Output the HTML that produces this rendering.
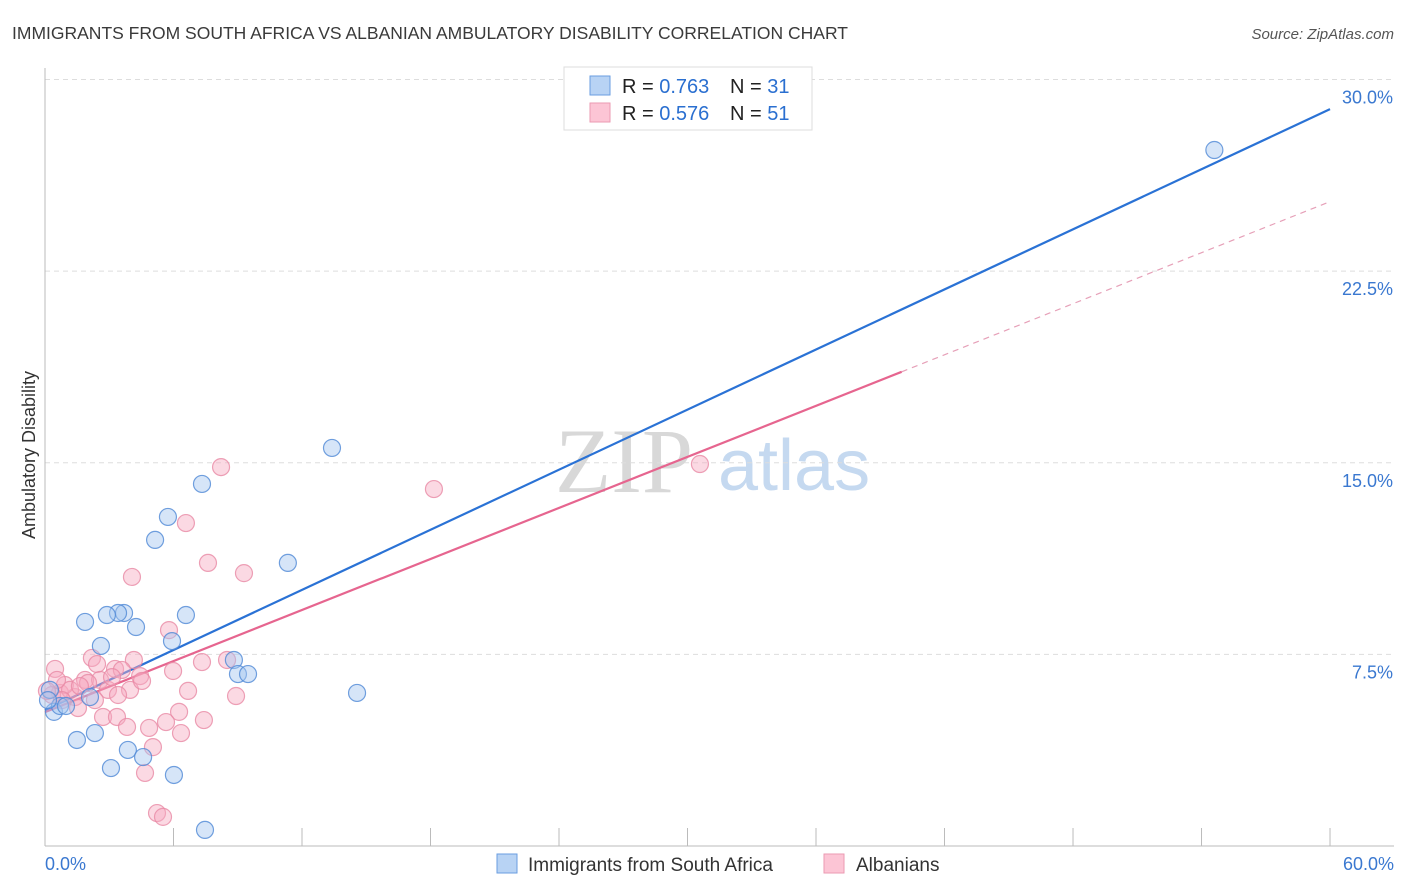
<!DOCTYPE html>
<html><head><meta charset="utf-8"><style>
body{margin:0;background:#fff;font-family:"Liberation Sans",sans-serif;}
svg{display:block}
</style></head><body>
<svg id="chart" width="1406" height="892" xmlns="http://www.w3.org/2000/svg">
<text x="12" y="39" font-size="17.5" fill="#3a3a3a">IMMIGRANTS FROM SOUTH AFRICA VS ALBANIAN AMBULATORY DISABILITY CORRELATION CHART</text>
<text x="1394" y="39" font-size="15" fill="#555" font-style="italic" text-anchor="end">Source: ZipAtlas.com</text>
<g>
<text x="555" y="492" font-family="Liberation Serif,serif" font-size="92" fill="#d8d8d8">ZIP</text>
<text x="718" y="490" font-size="72" fill="#c5d9f0">atlas</text>
</g>
<g id="grid"></g>
<g id="axes"></g>
<g id="lines"></g>
<g id="points"></g>
<text x="35" y="455" font-size="18" fill="#333" text-anchor="middle" transform="rotate(-90 35 455)">Ambulatory Disability</text>
<text x="45" y="870" font-size="18" fill="#3a78d0">0.0%</text>
<text x="1394" y="870" font-size="18" fill="#3a78d0" text-anchor="end">60.0%</text>
<g>
<rect x="564" y="67" width="248" height="63" fill="#fff" stroke="#ddd"/>
<rect x="590" y="76" width="20" height="19" fill="#b8d3f4" stroke="#6a9ee0"/>
<rect x="590" y="103" width="20" height="19" fill="#fcc5d5" stroke="#eb9ab2"/>
<text x="622" y="93" font-size="20" fill="#222">R = <tspan fill="#2a6fd0">0.763</tspan></text>
<text x="730" y="93" font-size="20" fill="#222">N = <tspan fill="#2a6fd0">31</tspan></text>
<text x="622" y="120" font-size="20" fill="#222">R = <tspan fill="#2a6fd0">0.576</tspan></text>
<text x="730" y="120" font-size="20" fill="#222">N = <tspan fill="#2a6fd0">51</tspan></text>
</g>
<g>
<rect x="497" y="854" width="20" height="19" fill="#b8d3f4" stroke="#6a9ee0"/>
<text x="528" y="871" font-size="19" fill="#333">Immigrants from South Africa</text>
<rect x="824" y="854" width="20" height="19" fill="#fcc5d5" stroke="#eb9ab2"/>
<text x="856" y="871" font-size="19" fill="#333">Albanians</text>
</g>
</svg>
<script>
const yTicks=[7.5,15,22.5,30];
const yTickLabels=["7.5%","15.0%","22.5%","30.0%"];
const xTicks=[0,6,12,18,24,30,36,42,48,54,60];
const blueX=[54.6,13.4,7.33,5.74,5.14,11.34,6.58,3.69,3.41,2.89,1.87,4.25,2.61,5.93,8.82,9.01,9.48,14.57,2.10,0.42,0.70,0.98,0.23,1.49,2.33,3.87,4.58,3.08,6.02,7.47,0.14];
const blueY=[27.24,15.58,14.17,12.88,11.98,11.08,9.04,9.12,9.12,9.04,8.77,8.57,7.83,8.02,7.28,6.73,6.73,5.99,5.83,5.25,5.48,5.48,6.11,4.15,4.42,3.76,3.48,3.05,2.78,0.63,5.71];
const pinkX=[8.22,18.16,30.58,6.58,7.61,4.06,9.29,5.79,2.19,4.15,7.33,8.50,2.43,3.27,3.59,4.44,5.98,0.47,1.87,2.57,2.94,6.68,8.92,0.70,1.40,2.71,3.36,6.26,5.65,4.86,3.83,7.42,6.35,5.04,4.67,5.23,5.51,0.93,0.33,1.54,2.01,3.97,1.17,0.56,3.13,0.09,0.79,2.33,4.53,1.63,3.41];
const pinkY=[14.83,13.97,14.95,12.64,11.08,10.53,10.68,8.45,7.36,7.28,7.20,7.28,7.12,6.93,6.89,6.65,6.85,6.93,6.50,6.50,6.11,6.07,5.87,5.99,5.83,5.05,5.05,5.25,4.85,4.62,4.66,4.93,4.42,3.87,2.86,1.29,1.14,6.30,5.91,5.40,6.38,6.11,6.11,6.50,6.61,6.07,5.71,5.71,6.46,6.26,5.91];
const blueFit=[5.32,0.392];
const pinkFit=[5.24,0.333];
const pinkSolidEnd=40;
const NS="http://www.w3.org/2000/svg";
const X=v=>45+v*21.417, Y=v=>846-v*25.55;
function mk(tag,attrs,parent){const e=document.createElementNS(NS,tag);for(const k in attrs)e.setAttribute(k,attrs[k]);parent.appendChild(e);return e;}
const grid=document.getElementById('grid'),axes=document.getElementById('axes'),lines=document.getElementById('lines'),pts=document.getElementById('points');
yTicks.forEach((t,i)=>{
 const l=mk('line',{x1:45,x2:1394,y1:Y(t),y2:Y(t),stroke:'#ddd','stroke-dasharray':'5,4'},grid);
 
 
 const tx=mk('text',{x:1393,y:Y(t)+24,'font-size':18,fill:'#3a78d0','text-anchor':'end'},grid);
 tx.textContent=yTickLabels[i];
 
 
});
const ya=mk('line',{x1:45,x2:45,y1:68,y2:846,stroke:'#bbb'},axes);


const xa=mk('line',{x1:45,x2:1394,y1:846,y2:846,stroke:'#bbb'},axes);


xTicks.forEach(t=>{
 const l=mk('line',{x1:X(t),x2:X(t),y1:828,y2:846,stroke:'#bbb'},axes);
 
 
});
function drawPts(xs,ys,fill,stroke,name){
 xs.forEach((x,i)=>{
  const c=mk('circle',{cx:X(x),cy:Y(ys[i]),r:8.5,fill:fill,'fill-opacity':0.45,stroke:stroke,'stroke-width':1.2,'stroke-opacity':0.8},pts);
  
  
 });
}
drawPts(pinkX,pinkY,'#f7aac0','#e88aa5','albanians-point');
drawPts(blueX,blueY,'#a5c6ef','#4f88d6','south-africa-point');
const bl=mk('line',{x1:X(0),y1:Y(blueFit[0]),x2:X(60),y2:Y(blueFit[0]+blueFit[1]*60),stroke:'#2a72d5','stroke-width':2.2},lines);


const pl=mk('line',{x1:X(0),y1:Y(pinkFit[0]),x2:X(pinkSolidEnd),y2:Y(pinkFit[0]+pinkFit[1]*pinkSolidEnd),stroke:'#e6658f','stroke-width':2.2},lines);


const pd=mk('line',{x1:X(pinkSolidEnd),y1:Y(pinkFit[0]+pinkFit[1]*pinkSolidEnd),x2:X(60),y2:Y(pinkFit[0]+pinkFit[1]*60),stroke:'#e6a0b8','stroke-width':1.2,'stroke-dasharray':'6,5'},lines);


</script>
</body></html>
